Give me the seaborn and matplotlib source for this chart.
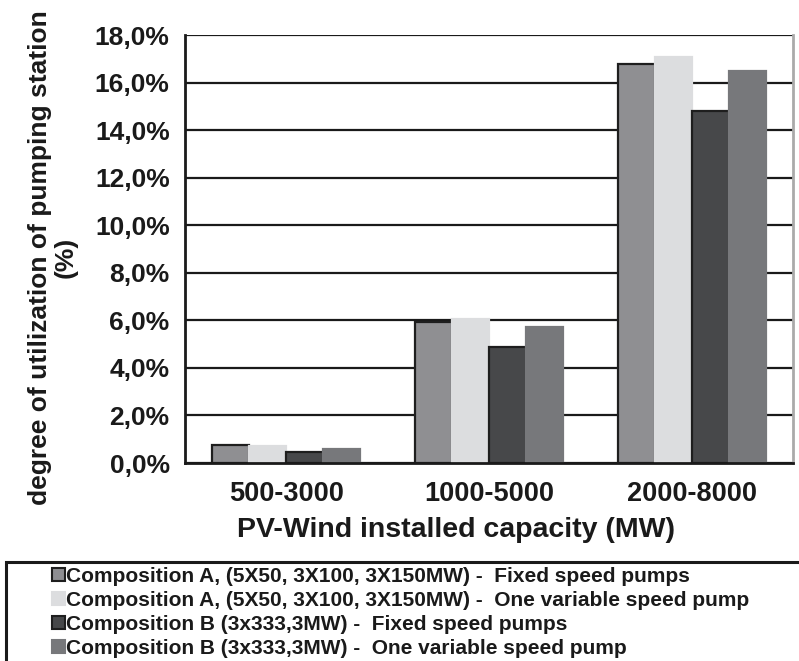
import numpy as np
import pandas as pd
import matplotlib
matplotlib.use("Agg")
import matplotlib.pyplot as plt
import seaborn as sns
from matplotlib.ticker import FuncFormatter, MultipleLocator, FixedLocator
from matplotlib.patches import Patch, Rectangle

# -----------------------------
# Data
# -----------------------------
capacities = ["500-3000", "1000-5000", "2000-8000"]
series = [
    "Composition A, (5X50, 3X100, 3X150MW) -  Fixed speed pumps",
    "Composition A, (5X50, 3X100, 3X150MW) -  One variable speed pump",
    "Composition B (3x333,3MW) -  Fixed speed pumps",
    "Composition B (3x333,3MW) -  One variable speed pump",
]
a_fixed = [0.76, 5.94, 16.8]
a_variable = [0.73, 6.05, 17.07]
b_fixed = [0.47, 4.9, 14.8]
b_variable = [0.58, 5.72, 16.5]

colors = ["#8e8e92", "#dcdddf", "#47484a", "#77787b"]
edges = ["#1e1e1e", "#dcdddf", "#1e1e1e", "#77787b"]

df = pd.DataFrame({
    "capacity": capacities * 4,
    "series": np.repeat(series, 3),
    "value": a_fixed + a_variable + b_fixed + b_variable,
})

# -----------------------------
# Plot
# -----------------------------
sns.set_style("white")
plt.rcParams["font.family"] = ["Liberation Sans", "DejaVu Sans"]
INK = "#1a1a1a"

fig = plt.figure(figsize=(7.99, 6.61), dpi=100)
ax = fig.add_axes([0.2315, 0.2995, 0.761, 0.6475])

sns.barplot(
    data=df, x="capacity", y="value", hue="series",
    order=capacities, hue_order=series, palette=colors,
    width=0.73, gap=0, legend=False, ax=ax,
)
for cont, ec in zip(ax.containers, edges):
    for bar in cont:
        bar.set_edgecolor(ec)
        bar.set_linewidth(1.6)

ax.set_ylim(0, 18)
ax.set_xlim(-0.5, 2.5)
ax.yaxis.set_major_locator(MultipleLocator(2))
ax.yaxis.set_major_formatter(FuncFormatter(lambda v, p: f"{v:.1f}%".replace(".", ",")))
ax.grid(axis="y", color=INK, linewidth=1.6)
ax.set_axisbelow(True)

ax.xaxis.set_minor_locator(FixedLocator([-0.5, 0.5, 1.5, 2.5]))
ax.tick_params(axis="x", which="major", length=0, pad=13, labelsize=19.5)
ax.tick_params(axis="x", which="minor", length=6, width=2, color=INK, direction="out")
ax.tick_params(axis="y", length=7, width=2, color=INK, direction="out", labelsize=19, pad=4)
for lab in ax.get_xticklabels() + ax.get_yticklabels():
    lab.set_fontweight("bold")
    lab.set_color(INK)

for side in ["left", "bottom"]:
    ax.spines[side].set_color(INK)
    ax.spines[side].set_linewidth(2)
ax.spines["top"].set_visible(False)
ax.spines["right"].set_color("#aaaaaa")
ax.spines["right"].set_linewidth(2)

ax.set_xlabel("PV-Wind installed capacity (MW)", fontsize=20.5, fontweight="bold",
              color=INK)
ax.xaxis.set_label_coords(0.446, -0.126)
ax.set_ylabel("degree of utilization of pumping station\n(%)", fontsize=19,
              fontweight="bold", color=INK, linespacing=1.1)
ax.yaxis.set_label_coords(-0.176, 0.48)

# legend box running off the right and bottom edges
fig.patches.append(Rectangle((6 / 799, -0.2), 1.1, 1 - 562 / 661 + 0.2,
                             transform=fig.transFigure, fill=False,
                             edgecolor=INK, linewidth=2.2, clip_on=False))

handles = [Patch(facecolor=c, edgecolor=e, linewidth=1.5) for c, e in zip(colors, edges)]
leg = fig.legend(
    handles, series, loc="upper left", bbox_to_anchor=(52 / 799, 1 - 567 / 661),
    frameon=False, handlelength=0.62, handleheight=0.62,
    handletextpad=0.05, labelspacing=0.24, borderpad=0, borderaxespad=0,
    prop={"family": ["Liberation Sans", "DejaVu Sans"], "weight": "bold", "size": 15},
)
for t in leg.get_texts():
    t.set_color(INK)

fig.savefig("out.png", dpi=100)
